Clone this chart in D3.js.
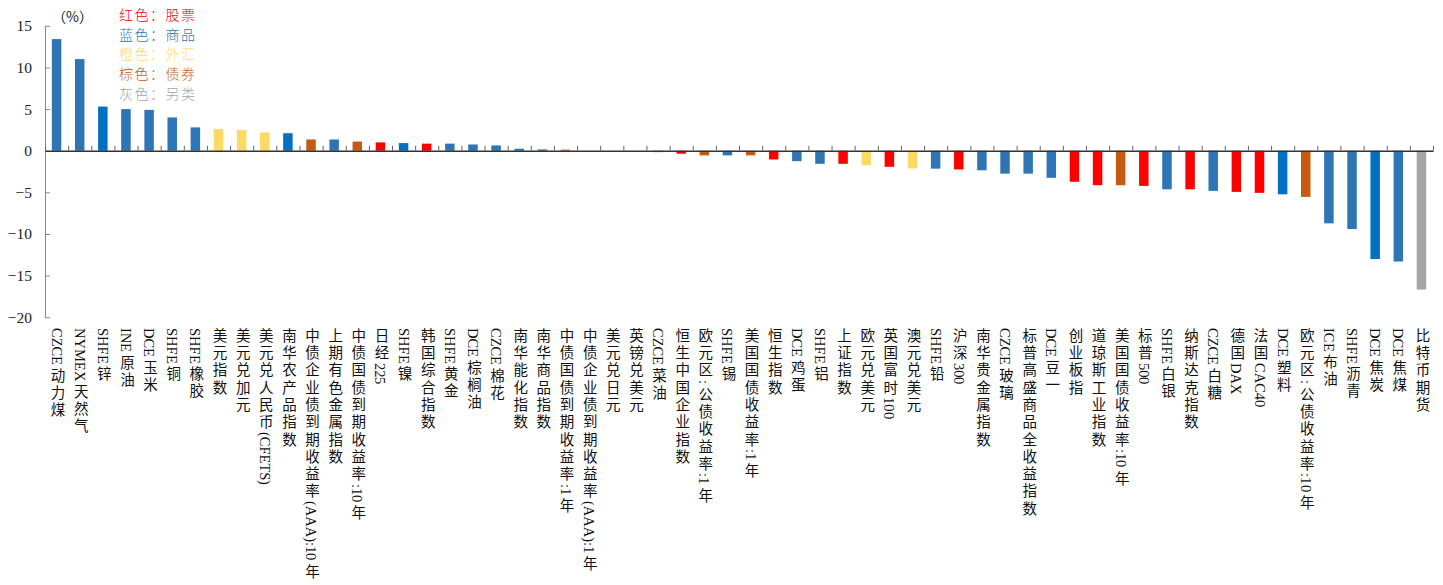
<!DOCTYPE html>
<html><head><meta charset="utf-8">
<script src="https://cdn.jsdelivr.net/npm/d3@7"></script>
<style>
html,body{margin:0;padding:0;background:#fff;}
svg{display:block;}
</style>
</head><body>
<script>
const categories = ["CZCE动力煤","NYMEX天然气","SHFE锌","INE原油","DCE玉米","SHFE铜","SHFE橡胶","美元指数","美元兑加元","美元兑人民币(CFETS)","南华农产品指数","中债企业债到期收益率(AAA):10年","上期有色金属指数","中债国债到期收益率:10年","日经225","SHFE镍","韩国综合指数","SHFE黄金","DCE棕榈油","CZCE棉花","南华能化指数","南华商品指数","中债国债到期收益率:1年","中债企业债到期收益率(AAA):1年","美元兑日元","英镑兑美元","CZCE菜油","恒生中国企业指数","欧元区:公债收益率:1年","SHFE锡","美国国债收益率:1年","恒生指数","DCE鸡蛋","SHFE铝","上证指数","欧元兑美元","英国富时100","澳元兑美元","SHFE铅","沪深300","南华贵金属指数","CZCE玻璃","标普高盛商品全收益指数","DCE豆一","创业板指","道琼斯工业指数","美国国债收益率:10年","标普500","SHFE白银","纳斯达克指数","CZCE白糖","德国DAX","法国CAC40","DCE塑料","欧元区:公债收益率:10年","ICE布油","SHFE沥青","DCE焦炭","DCE焦煤","比特币期货"];
const values = [13.4,11.0,5.3,5.0,4.9,4.0,2.8,2.6,2.5,2.2,2.1,1.35,1.35,1.1,1.0,0.92,0.85,0.85,0.75,0.64,0.24,0.16,0.13,0,0,0,-0.17,-0.36,-0.56,-0.56,-0.56,-1.05,-1.25,-1.57,-1.57,-1.73,-1.93,-2.13,-2.15,-2.25,-2.35,-2.75,-2.75,-3.25,-3.73,-4.14,-4.14,-4.22,-4.63,-4.63,-4.82,-4.94,-5.06,-5.23,-5.54,-8.72,-9.4,-13.0,-13.3,-16.67];
const groups = ["C","C","C2","C","C","C","C","F","F","F","C2","B","C","B","S","C2","S","C","C","C","C","C","B","B","F","F","C","S","B","C","B","S","C","C","S","F","S","F","C","S","C","C","C","C","S","S","B","S","C","S","C","S","S","C2","B","C","C","C2","C","O"];
const yTicks = [15,10,5,0,-5,-10,-15,-20];
const legendTexts = ["红色：股票","蓝色：商品","橙色：外汇","棕色：债券","灰色：另类"];
const legendGroups = ["S","C","F","B","O"];
const unitLabel = "（%）";

const colors = {S:"#FF0000", C:"#2E75B6", C2:"#0070C0", F:"#FFD966", B:"#C55A11", O:"#A5A5A5"};
const legendColors = {S:"#FF0000", C:"#2E75B6", F:"#FFD966", B:"#C55A11", O:"#A5A5A5"};

const W = 1443, H = 585;
const x0 = 45, x1 = 1433;
const svg = d3.select("body").append("svg").attr("width", W).attr("height", H);

const x = d3.scaleBand().domain(categories).range([x0, x1]).paddingInner(0.59).paddingOuter(0.295);
const y = d3.scaleLinear().domain([-20, 15]).range([317.3, 25.8]);
const xb = d3.scaleLinear().domain([0, categories.length]).range([x0, x1]);

const data = categories.map((c, i) => ({c, v: values[i], g: groups[i]}));

svg.append("g").selectAll("rect").data(data).join("rect")
  .attr("x", d => x(d.c))
  .attr("width", x.bandwidth())
  .attr("y", d => y(Math.max(0, d.v)))
  .attr("height", d => Math.abs(y(d.v) - y(0)))
  .attr("fill", d => colors[d.g]);

// y axis
const ya = svg.append("g").attr("transform", `translate(${x0},0)`)
  .call(d3.axisLeft(y).tickValues(yTicks).tickSizeInner(-5).tickSizeOuter(0).tickPadding(13));
ya.select(".domain").attr("stroke", "#888");
ya.selectAll(".tick line").attr("stroke", "#888");
ya.selectAll(".tick text").attr("font-family", "'Liberation Serif', serif").attr("font-size", 15.5).attr("fill", "#222");

// x axis (ticks between categories)
const xa = svg.append("g").attr("transform", `translate(0,${y(0)})`)
  .call(d3.axisBottom(xb).tickValues(d3.range(categories.length + 1)).tickSizeInner(-5).tickSizeOuter(0).tickFormat(""));
xa.select(".domain").attr("stroke", "#333").attr("stroke-width", 1.3);
xa.selectAll(".tick line").attr("stroke", "#666");

// category labels, vertical
const cjkChar = "\\u2E80-\\u9FFF\\uF900-\\uFAFF\\uFF00-\\uFFEF\\u3000-\\u303F";
const runRe = new RegExp(`[${cjkChar}]+|[^${cjkChar}]+`, "g");
const isCjkRe = new RegExp(`[${cjkChar}]`);
const labels = svg.append("g").selectAll("text").data(data).join("text")
  .attr("x", d => x(d.c) + x.bandwidth() / 2)
  .attr("y", 328)
  .attr("font-family", "'Liberation Serif', 'Noto Sans CJK SC', serif")
  .attr("font-size", 14.5)
  .attr("fill", "#111")
  .style("writing-mode", "vertical-rl")
  .style("text-orientation", "mixed");
labels.each(function(d) {
  const t = d3.select(this);
  const runs = d.c.match(runRe) || [];
  runs.forEach((run, k) => {
    const isCjk = isCjkRe.test(run);
    if (isCjk) {
      t.append("tspan").text(run).style("letter-spacing", "2.8px");
    } else {
      // Latin run: no spacing inside, small gap after it when followed by CJK
      const body = run.slice(0, -1), last = run.slice(-1);
      if (body) t.append("tspan").text(body).style("letter-spacing", "0px");
      t.append("tspan").text(last).style("letter-spacing", k < runs.length - 1 ? "3px" : "0px");
    }
  });
});

// unit label
svg.append("text").attr("x", 52).attr("y", 22)
  .attr("font-family", "'Noto Sans CJK SC', serif")
  .attr("font-size", 14).attr("fill", "#222").text(unitLabel);

// legend
svg.append("g").selectAll("text").data(legendTexts).join("text")
  .attr("x", 119)
  .attr("y", (d, i) => 20 + i * 19.7)
  .attr("font-family", "'Noto Sans CJK SC', serif")
  .attr("font-size", 14)
  .attr("font-weight", 300)
  .style("letter-spacing", "1.5px")
  .attr("fill", (d, i) => legendColors[legendGroups[i]])
  .text(d => d);
</script>
</body></html>
